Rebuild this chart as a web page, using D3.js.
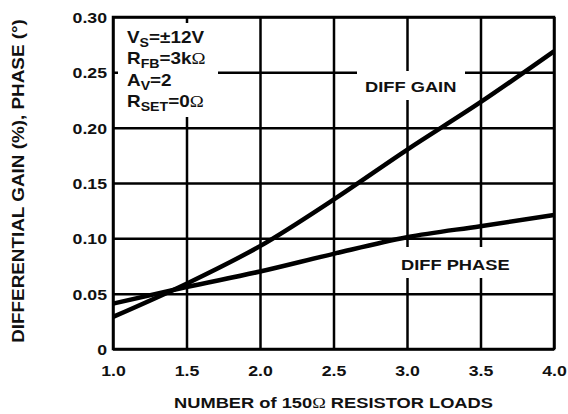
<!DOCTYPE html>
<html>
<head>
<meta charset="utf-8">
<script src="https://cdn.jsdelivr.net/npm/d3@7"></script>
<style>
  body { margin: 0; background: #fff; }
  text { font-family: "Liberation Sans", Arial, sans-serif; font-weight: bold; fill: #111; }
</style>
</head>
<body>
<div id="chart"></div>
<script>
// values
const loads = [1.0, 1.5, 2.0, 2.5, 3.0, 3.5, 4.0]
const diffGain = [0.029, 0.059, 0.093, 0.135, 0.180, 0.223, 0.269]
const diffPhase = [0.041, 0.056, 0.070, 0.086, 0.101, 0.111, 0.121]
const xTicks = [1.0, 1.5, 2.0, 2.5, 3.0, 3.5, 4.0]
const yTicks = [0, 0.05, 0.10, 0.15, 0.20, 0.25, 0.30]

// test conditions: [text, kind] segments
const conditions = [
  [["V", ""], ["S", "sub"], ["=±12V", ""]],
  [["R", ""], ["FB", "sub"], ["=3k", ""], ["Ω", "ohm"]],
  [["A", ""], ["V", "sub"], ["=2", ""]],
  [["R", ""], ["SET", "sub"], ["=0", ""], ["Ω", "ohm"]]
]

const width = 568
const height = 414
const margin = { top: 17, right: 14, bottom: 65, left: 113 }
const innerW = width - margin.left - margin.right
const innerH = height - margin.top - margin.bottom
const stretch = 1.18 // the reference type is drawn a bit wide

const x = d3.scaleLinear().domain([1, 4]).range([0, innerW])
const y = d3.scaleLinear().domain([0, 0.30]).range([innerH, 0])

const svg = d3.select("#chart")
  .append("svg")
  .attr("width", width)
  .attr("height", height)

const g = svg.append("g")
  .attr("transform", `translate(${margin.left},${margin.top})`)

// Grid from the axes
const xAxis = g.append("g")
  .attr("transform", `translate(0,${innerH})`)
  .call(d3.axisBottom(x).tickValues(xTicks).tickSize(-innerH).tickFormat(d3.format(".1f")))
const yAxis = g.append("g")
  .call(d3.axisLeft(y).tickValues(yTicks).tickSize(-innerW).tickFormat(d => d === 0 ? "0" : d3.format(".2f")(d)))

for (const ax of [xAxis, yAxis]) {
  ax.select(".domain").remove()
  ax.selectAll(".tick line").attr("stroke", "#000").attr("stroke-width", 2.5)
  ax.selectAll(".tick text")
    .attr("fill", "#111")
    .style("font-size", "15px")
    .style("font-family", "\"Liberation Sans\", Arial, sans-serif")
    .style("font-weight", "bold")
}
xAxis.selectAll(".tick text")
  .attr("y", 0).attr("dy", 0)
  .attr("transform", `translate(0,27) scale(${stretch},1)`)
yAxis.selectAll(".tick text")
  .attr("x", 0).attr("dy", "0.36em")
  .attr("transform", `translate(-6,0) scale(${stretch},1)`)

// white patches behind the labels
g.append("rect")
  .attr("x", 5).attr("y", 6)
  .attr("width", 100).attr("height", 94)
  .attr("fill", "#fff")
g.append("rect")
  .attr("x", 244).attr("y", 54)
  .attr("width", 108).attr("height", 29)
  .attr("fill", "#fff")
g.append("rect")
  .attr("x", 280).attr("y", 230)
  .attr("width", 122).attr("height", 31)
  .attr("fill", "#fff")

// frame
g.append("rect")
  .attr("width", innerW).attr("height", innerH)
  .attr("fill", "none")
  .attr("stroke", "#000")
  .attr("stroke-width", 2.5)

// curves
const line = d3.line()
  .x((d, i) => x(loads[i]))
  .y(d => y(d))
  .curve(d3.curveMonotoneX)

for (const series of [diffGain, diffPhase]) {
  g.append("path")
    .datum(series)
    .attr("d", line)
    .attr("fill", "none")
    .attr("stroke", "#000")
    .attr("stroke-width", 4.5)
}

function stretchedText(parent, tx, ty, size, anchor) {
  return parent.append("text")
    .attr("transform", `translate(${tx},${ty}) scale(${stretch},1)`)
    .attr("text-anchor", anchor || "start")
    .style("font-size", `${size}px`)
}

// conditions block
conditions.forEach((segs, row) => {
  const t = stretchedText(g, 14, 26 + row * 21.3, 16)
  let shifted = false
  for (const [txt, kind] of segs) {
    const sp = t.append("tspan").text(txt)
    if (kind === "sub") {
      sp.attr("dy", 4).style("font-size", "12px")
      shifted = true
    } else {
      if (shifted) { sp.attr("dy", -4); shifted = false }
      if (kind === "ohm") {
        sp.style("font-family", "\"Liberation Serif\", serif").style("font-weight", "normal")
      }
    }
  }
})

// series labels
stretchedText(g, 252, 75, 15.5).text("DIFF GAIN")
stretchedText(g, 288, 253, 15.5).text("DIFF PHASE")

// axis titles
const xt = stretchedText(svg, margin.left + innerW / 2, 408, 15.5, "middle")
xt.append("tspan").text("NUMBER of 150")
xt.append("tspan").text("Ω").style("font-family", "\"Liberation Serif\", serif").style("font-weight", "normal")
xt.append("tspan").text(" RESISTOR LOADS")

stretchedText(svg, 0, 0, 16, "middle")
  .attr("transform", `translate(24,${margin.top + innerH / 2 - 2}) rotate(-90) scale(${stretch},1)`)
  .text("DIFFERENTIAL GAIN (%), PHASE (°)")
</script>
</body>
</html>
